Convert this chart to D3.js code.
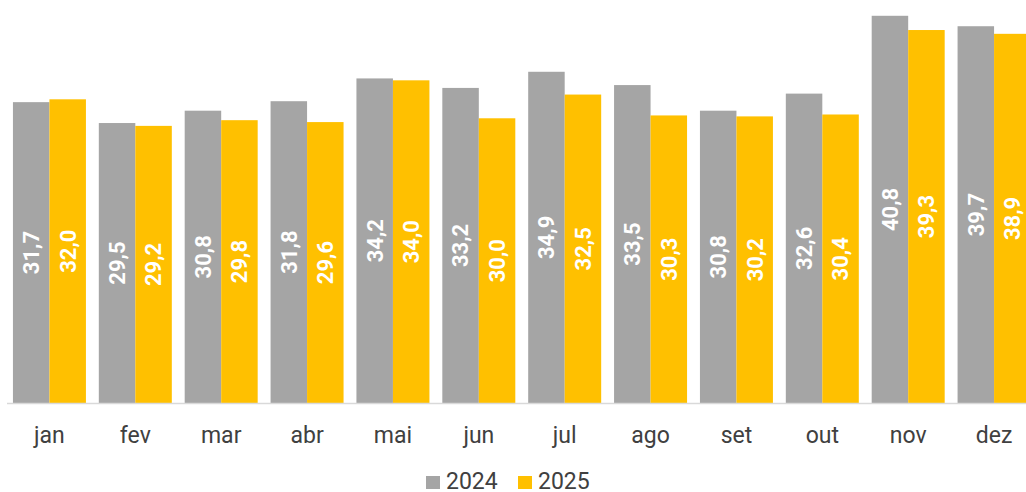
<!DOCTYPE html>
<html lang="pt">
<head>
<meta charset="utf-8">
<title>2024 x 2025</title>
<script src="https://cdn.jsdelivr.net/npm/d3@7"></script>
<style>
  body { margin: 0; background: #fff; }
  text { font-family: Roboto, "Noto Sans", sans-serif; }
</style>
</head>
<body>
<script>
// data
var months = ["jan","fev","mar","abr","mai","jun","jul","ago","set","out","nov","dez"];
var years = ["2024","2025"];
var v2024 = [31.7,29.5,30.8,31.8,34.2,33.2,34.9,33.5,30.8,32.6,40.8,39.7];
var v2025 = [32.0,29.2,29.8,29.6,34.0,30.0,32.5,30.3,30.2,30.4,39.3,38.9];
var colors = ["#A5A5A5","#FFC000"];

var w = 1026, h = 492;
var svg = d3.select("body").append("svg").attr("width", w).attr("height", h);

var rows = months.map(function(m, i) { return {m: m, vals: [v2024[i], v2025[i]]}; });

// x runs past the right edge, as in the original
var x = d3.scaleBand().domain(months).range([6.5, 1037]).paddingInner(0.15).paddingOuter(0.075);
var x1 = d3.scaleBand().domain(years).range([0, x.bandwidth()]);
var y = d3.scaleLinear().domain([0, 42]).range([403, 4.4]);

var g = svg.selectAll("g.month").data(rows).enter().append("g")
  .attr("class", "month")
  .attr("transform", function(d) { return "translate(" + x(d.m) + ",0)"; });

var bars = g.selectAll("g.bar").data(function(d) {
    return d.vals.map(function(v, k) { return {y: years[k], v: v, k: k}; });
  }).enter().append("g").attr("class", "bar");

bars.append("rect")
  .attr("x", function(d) { return x1(d.y); })
  .attr("width", x1.bandwidth())
  .attr("y", function(d) { return y(d.v); })
  .attr("height", function(d) { return y(0) - y(d.v); })
  .attr("fill", function(d) { return colors[d.k]; });

// value labels, rotated, in the middle of the bar
bars.append("text")
  .attr("transform", function(d) {
    var cx = x1(d.y) + x1.bandwidth() / 2;
    var cy = (y(d.v) + y(0)) / 2;
    return "translate(" + cx + "," + cy + ") rotate(-90)";
  })
  .attr("text-anchor", "middle")
  .attr("dy", "0.36em")
  .attr("fill", "#fff")
  .attr("font-size", 22)
  .attr("font-weight", "bold")
  .text(function(d) { return d3.format(".1f")(d.v).replace(".", ","); });

// axis
var xAxis = svg.append("g").attr("transform", "translate(0," + y(0) + ")")
  .call(d3.axisBottom(x).tickSize(0).tickPadding(0));
xAxis.select(".domain").attr("stroke", "#D9D9D9").attr("stroke-width", 1.5)
  .attr("d", "M7,0.5H1040");
xAxis.selectAll(".tick text")
  .attr("font-size", 23)
  .attr("fill", "#404040")
  .attr("dy", null)
  .attr("y", 40)
  .style("font-family", "Roboto, sans-serif");

// legend
var lg = svg.append("g").selectAll("g").data(years).enter().append("g")
  .attr("transform", function(d, i) { return "translate(" + (426 + i * 92) + ",0)"; });
lg.append("rect").attr("y", 476).attr("width", 14).attr("height", 13)
  .attr("fill", function(d, i) { return colors[i]; });
lg.append("text").attr("x", 20).attr("y", 489)
  .attr("font-size", 23).attr("fill", "#404040").text(function(d) { return d; });
</script>
</body>
</html>
